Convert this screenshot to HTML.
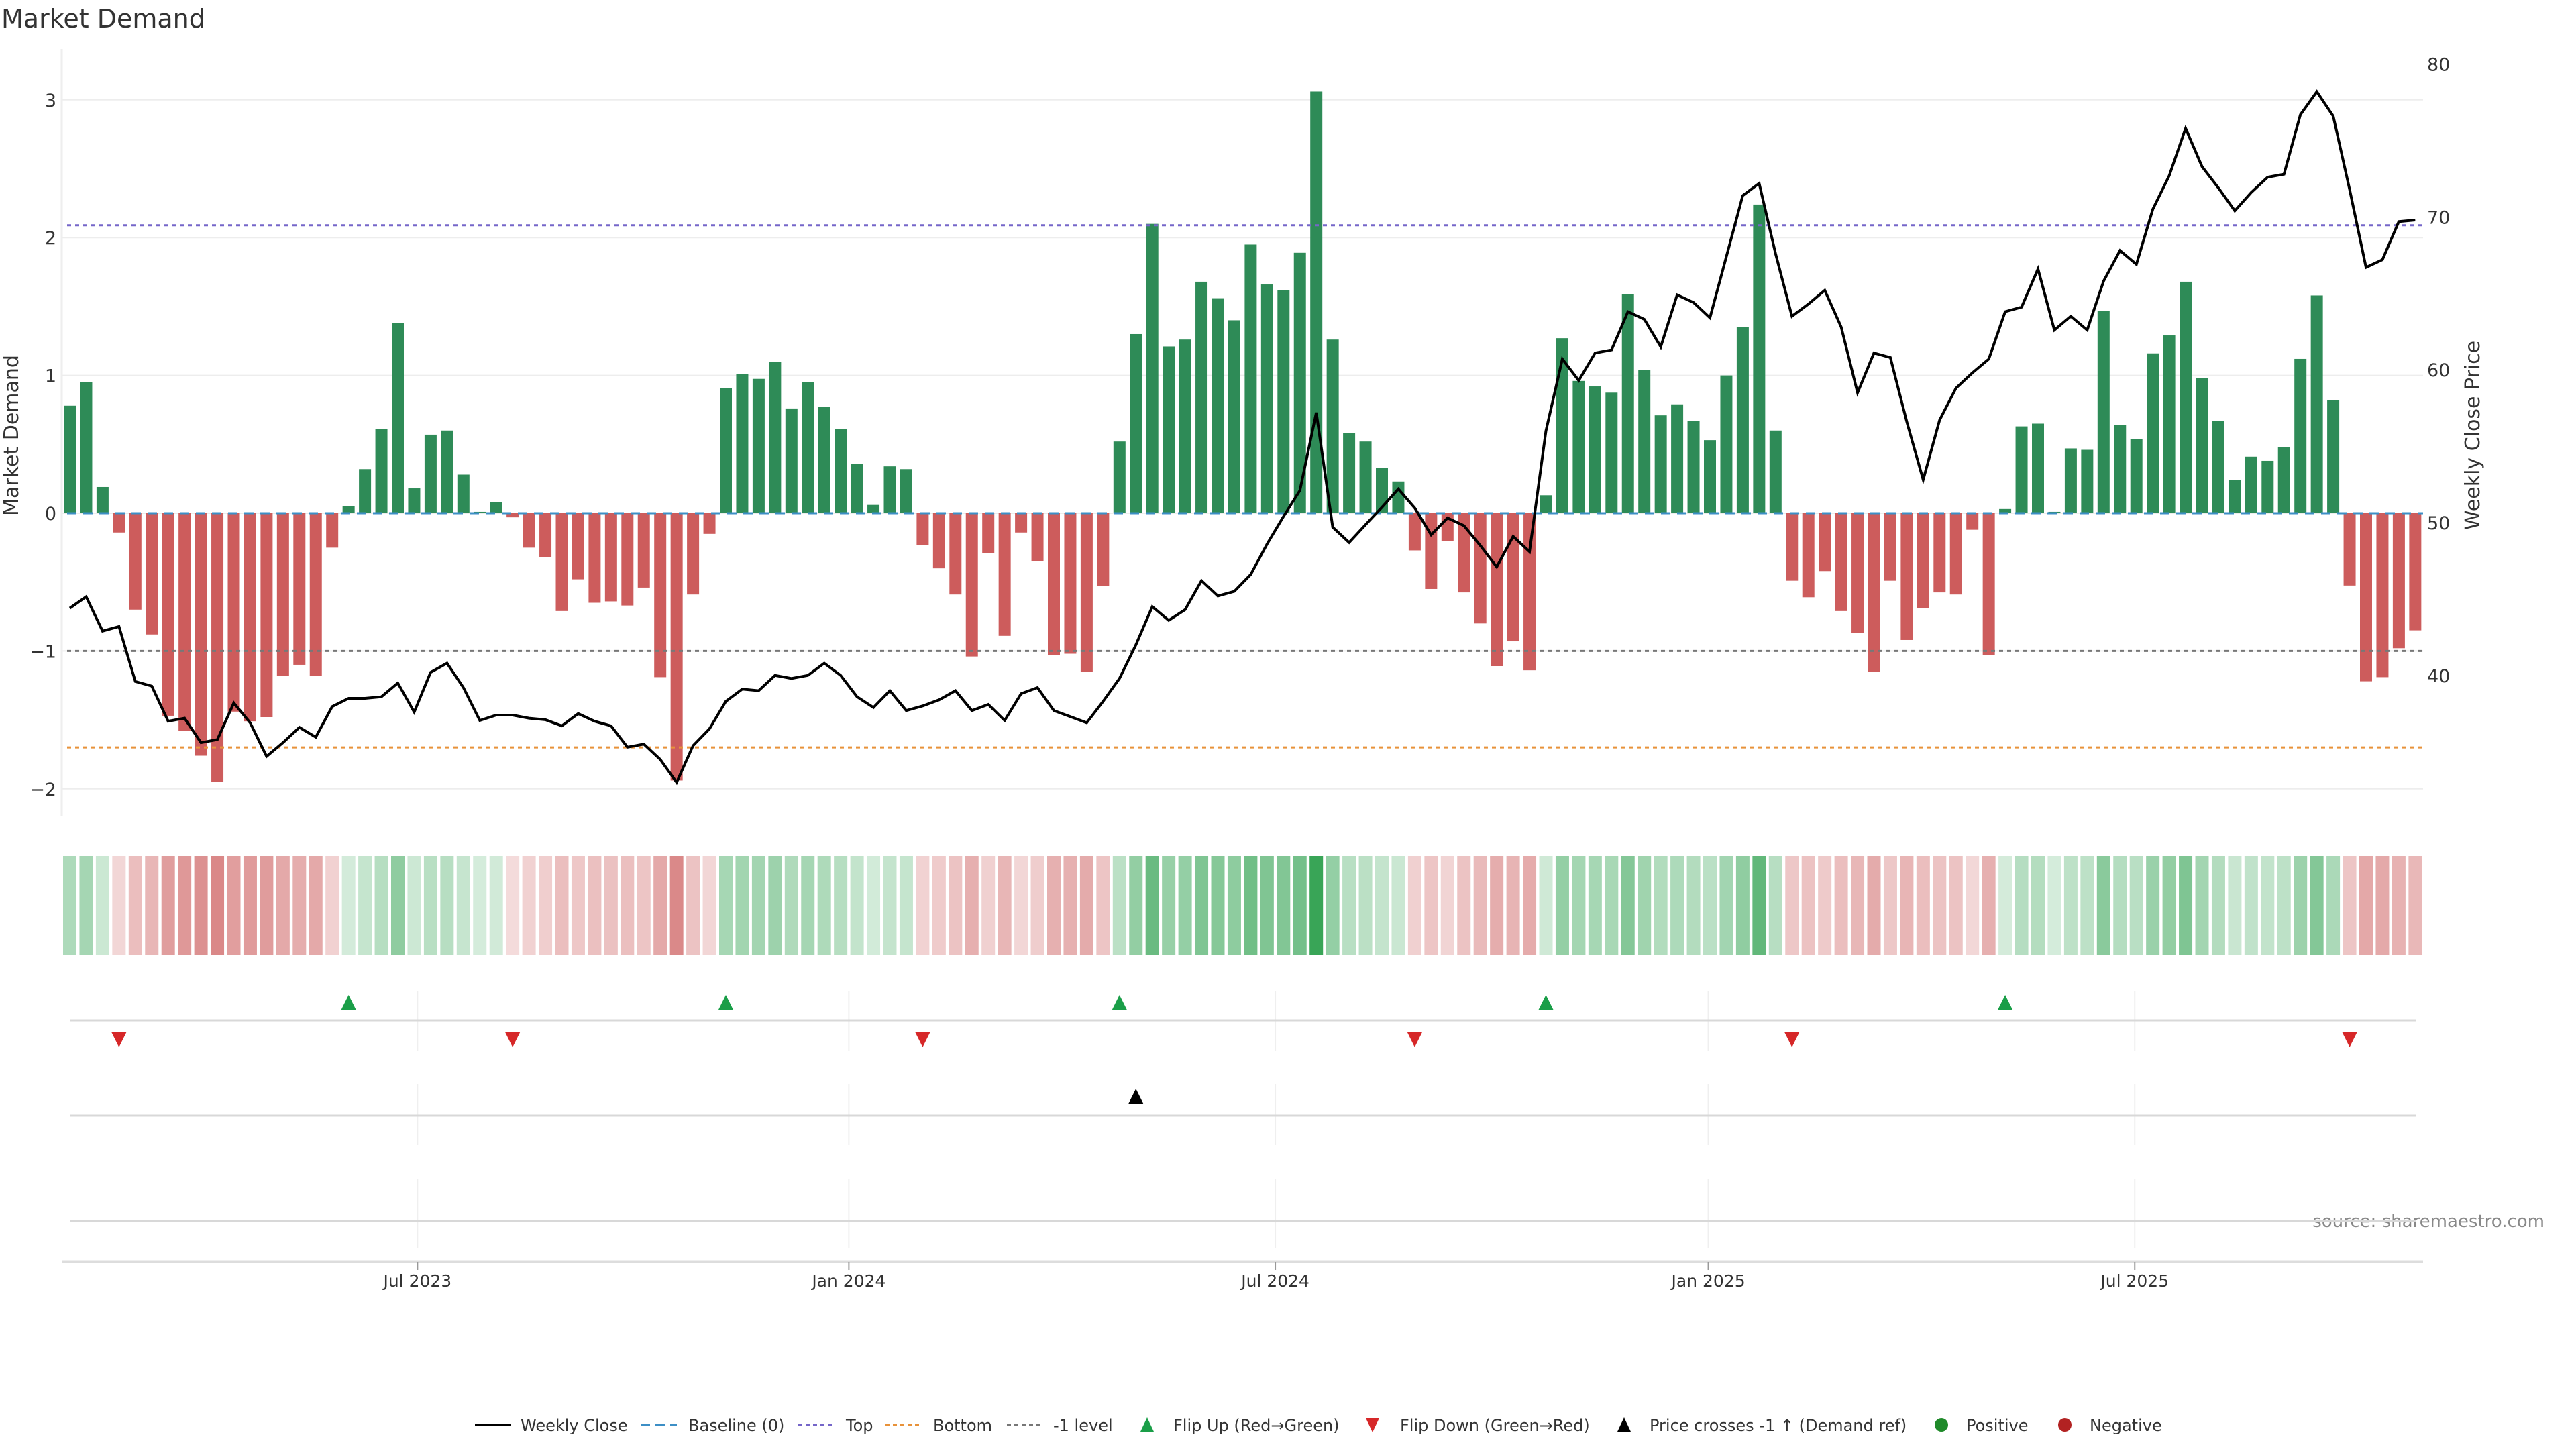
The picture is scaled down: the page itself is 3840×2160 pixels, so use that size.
<!DOCTYPE html>
<html><head><meta charset="utf-8"><style>
html,body{margin:0;padding:0;background:#fff;}
svg{display:block;font-family:"DejaVu Sans","Liberation Sans",sans-serif;}
</style></head><body>
<svg id="chart" xmlns="http://www.w3.org/2000/svg" width="3840" height="2160" viewBox="0 0 3840 2160">
<rect width="3840" height="2160" fill="#fff"/>
<text x="2" y="41" font-size="38" fill="#333">Market Demand</text>
<text transform="translate(27,649) rotate(-90)" text-anchor="middle" font-size="30" fill="#333">Market Demand</text>
<text transform="translate(3696,649) rotate(-90)" text-anchor="middle" font-size="30" fill="#333">Weekly Close Price</text>
<text x="3793" y="1829" text-anchor="end" font-size="26" fill="#888">source: sharemaestro.com</text>
<g id="grid"></g><g id="bars"></g><g id="refs"></g><g id="price"></g><g id="heat"></g><g id="events"></g><g id="xaxis"></g><g id="legend"></g>
</svg>
<script>
const demand=[0.78,0.95,0.19,-0.14,-0.70,-0.88,-1.47,-1.58,-1.76,-1.95,-1.44,-1.51,-1.48,-1.18,-1.10,-1.18,-0.25,0.05,0.32,0.61,1.38,0.18,0.57,0.60,0.28,0.01,0.08,-0.03,-0.25,-0.32,-0.71,-0.48,-0.65,-0.64,-0.67,-0.54,-1.19,-1.94,-0.59,-0.15,0.91,1.01,0.975,1.10,0.76,0.95,0.77,0.61,0.36,0.06,0.34,0.32,-0.23,-0.40,-0.59,-1.04,-0.29,-0.89,-0.14,-0.35,-1.03,-1.02,-1.15,-0.53,0.52,1.30,2.10,1.21,1.26,1.68,1.56,1.40,1.95,1.66,1.62,1.89,3.06,1.26,0.58,0.52,0.33,0.23,-0.27,-0.55,-0.20,-0.575,-0.80,-1.11,-0.93,-1.14,0.13,1.27,0.96,0.92,0.875,1.59,1.04,0.71,0.79,0.67,0.53,1.00,1.35,2.24,0.60,-0.49,-0.61,-0.42,-0.71,-0.87,-1.15,-0.49,-0.92,-0.69,-0.575,-0.59,-0.12,-1.03,0.03,0.63,0.65,0.01,0.47,0.46,1.47,0.64,0.54,1.16,1.29,1.68,0.98,0.67,0.24,0.41,0.38,0.48,1.12,1.58,0.82,-0.525,-1.22,-1.19,-0.98,-0.85];
const closePrice=[44.4,45.15,42.9,43.2,39.6,39.3,37.0,37.2,35.6,35.8,38.2,36.9,34.7,35.6,36.6,35.96,37.96,38.5,38.5,38.6,39.5,37.6,40.2,40.8,39.2,37.05,37.4,37.4,37.2,37.1,36.7,37.5,37.0,36.7,35.3,35.5,34.5,33.0,35.4,36.5,38.3,39.1,39.0,40.0,39.8,40.0,40.8,40.0,38.6,37.9,39.0,37.7,38.0,38.4,39.0,37.7,38.1,37.05,38.8,39.2,37.7,37.3,36.9,38.3,39.8,42.0,44.5,43.6,44.3,46.2,45.2,45.5,46.6,48.6,50.4,52.1,57.2,49.7,48.7,49.86,51.0,52.2,50.96,49.2,50.3,49.8,48.5,47.1,49.1,48.1,56.0,60.7,59.3,61.1,61.3,63.8,63.3,61.5,64.9,64.4,63.4,67.4,71.4,72.2,67.6,63.5,64.3,65.2,62.8,58.5,61.1,60.8,56.6,52.8,56.7,58.8,59.8,60.7,63.8,64.1,66.6,62.6,63.5,62.6,65.8,67.8,66.9,70.5,72.7,75.8,73.3,71.9,70.4,71.6,72.6,72.8,76.7,78.2,76.6,71.8,66.7,67.2,69.7,69.8];
const leftTicks=[3,2,1,0,-1,-2];
const rightTicks=[80,70,60,50,40];
const refLevels=[2.09,-1.0,-1.70];
const dateTickPos=[21.2,47.5,73.5,99.9,125.9];
const dateTickLabels=["Jul 2023","Jan 2024","Jul 2024","Jan 2025","Jul 2025"];
const priceCrossIdx=[65];

const NS="http://www.w3.org/2000/svg";
function mk(t,a,p){const e=document.createElementNS(NS,t);for(const k in a)e.setAttribute(k,a[k]);p.appendChild(e);return e;}
const X0=104,STEP=24.45,L=92,R=3612;
const xs=i=>X0+i*STEP;
const yd=v=>765-v*205.4;
const yp=p=>779-(p-50)*22.78;
const G=id=>document.getElementById(id);

const g=G('grid');
let ax=mk('line',{x1:L,x2:L,y1:73,y2:1217,stroke:'#eee','stroke-width':3},g);


leftTicks.forEach(t=>{
  const l=mk('line',{x1:L,x2:R,y1:yd(t),y2:yd(t),stroke:'#ededed','stroke-width':2},g);
  
  
  const tx=mk('text',{x:84,y:yd(t)+10,'text-anchor':'end','font-size':27,fill:'#333'},g);
  tx.textContent=t<0?'\u2212'+(-t):String(t);
  
  
});
rightTicks.forEach(t=>{
  const tx=mk('text',{x:3618,y:yp(t)+10,'font-size':27,fill:'#333'},g);
  tx.textContent=String(t);
  
  
});
const b=G('bars');
demand.forEach((v,i)=>{
  const r=mk('rect',{x:xs(i)-9,width:18,y:Math.min(yd(v),yd(0)),height:Math.abs(yd(v)-yd(0)),fill:v>=0?'#2e8b57':'#cd5c5c'},b);
  
  
});
const rf=G('refs');
let base=mk('line',{x1:L+8,x2:R,y1:yd(0),y2:yd(0),stroke:'#3d8fc6','stroke-width':3,'stroke-dasharray':'14 10'},rf);


const refCols=['#7566c9','#777','#e8923a'];
const refNames=['top-line','minus-one-level','bottom-line'];
refLevels.forEach((v,k)=>{
  const l=mk('line',{x1:L+8,x2:R,y1:yd(v),y2:yd(v),stroke:refCols[k],'stroke-width':3,'stroke-dasharray':'6 6'},rf);
  
  
});
const pl=mk('polyline',{points:closePrice.map((p,i)=>xs(i)+','+yp(p)).join(' '),fill:'none',stroke:'#000','stroke-width':4,'stroke-linejoin':'miter'},G('price'));


const h=G('heat');
const maxA=Math.max(...demand.map(Math.abs));
demand.forEach((v,i)=>{
  const a=0.2+0.75*Math.abs(v)/maxA;
  const c=mk('rect',{x:xs(i)-10,width:20,y:1276,height:147,fill:v>=0?'#2ea04e':'#c85050','fill-opacity':a.toFixed(3)},h);
  
  
});
const ev=G('events');
const panels=[[1477,1567,1521],[1616,1707,1663],[1758,1861,1820]];
panels.forEach(p=>{
  dateTickPos.forEach(t=>{
    const l=mk('line',{x1:xs(t),x2:xs(t),y1:p[0],y2:p[1],stroke:'#efefef','stroke-width':2},ev);
    
    
  });
  const l=mk('line',{x1:104,x2:3602,y1:p[2],y2:p[2],stroke:'#d8d8d8','stroke-width':3},ev);
  
  
});
function tri(x,y,up,fill,name){
  const pts=up?[[x,y-11],[x-11,y+11],[x+11,y+11]]:[[x,y+11],[x-11,y-11],[x+11,y-11]];
  const t=mk('polygon',{points:pts.map(q=>q.join(',')).join(' '),fill:fill},ev);
  
  
}
for(let i=1;i<demand.length;i++){
  if(demand[i-1]<0&&demand[i]>=0)tri(xs(i),1494,true,'#1a9e48','flip-up-marker');
  if(demand[i-1]>=0&&demand[i]<0)tri(xs(i),1550,false,'#d62728','flip-down-marker');
}
priceCrossIdx.forEach(i=>tri(xs(i),1634,true,'#000','price-cross-marker'));
const xa=G('xaxis');
let xl=mk('line',{x1:L,x2:R,y1:1881,y2:1881,stroke:'#ddd','stroke-width':3},xa);


dateTickPos.forEach((t,k)=>{
  const tk=mk('line',{x1:xs(t),x2:xs(t),y1:1881,y2:1893,stroke:'#999','stroke-width':2},xa);
  
  
  const tx=mk('text',{x:xs(t),y:1918,'text-anchor':'middle','font-size':25,fill:'#333'},xa);
  tx.textContent=dateTickLabels[k];
  
  
});
const lg=G('legend');
const Y=2124;
const items=[
 ['line',708,'#000','',776,'Weekly Close','legend-weekly-close'],
 ['line',955,'#3d8fc6','14 8',1026,'Baseline (0)','legend-baseline'],
 ['line',1190,'#7566c9','6 5',1261,'Top','legend-top'],
 ['line',1320,'#e8923a','6 5',1391,'Bottom','legend-bottom'],
 ['line',1501,'#777','6 5',1570,'-1 level','legend-minus-one'],
 ['up',1710,'#1a9e48','',1749,'Flip Up (Red\u2192Green)','legend-flip-up'],
 ['down',2046,'#d62728','',2087,'Flip Down (Green\u2192Red)','legend-flip-down'],
 ['up',2421,'#000','',2459,'Price crosses -1 \u2191 (Demand ref)','legend-price-cross'],
 ['dot',2894,'#1f8a2a','',2931,'Positive','legend-positive'],
 ['dot',3078,'#b22222','',3115,'Negative','legend-negative']];
items.forEach(it=>{
  const grp=mk('g',{},lg);
  
  
  const x=it[1];
  if(it[0]==='line'){mk('line',{x1:x,x2:x+54,y1:Y,y2:Y,stroke:it[2],'stroke-width':4,'stroke-dasharray':it[3]},grp);}
  else if(it[0]==='up'){mk('polygon',{points:`${x},${Y-11} ${x-10},${Y+10} ${x+10},${Y+10}`,fill:it[2]},grp);}
  else if(it[0]==='down'){mk('polygon',{points:`${x},${Y+11} ${x-10},${Y-10} ${x+10},${Y-10}`,fill:it[2]},grp);}
  else {mk('circle',{cx:x,cy:Y,r:10,fill:it[2]},grp);}
  const t=mk('text',{x:it[4],y:Y+9,'font-size':24,fill:'#333'},grp);
  t.textContent=it[5];
});
</script>
</body></html>
